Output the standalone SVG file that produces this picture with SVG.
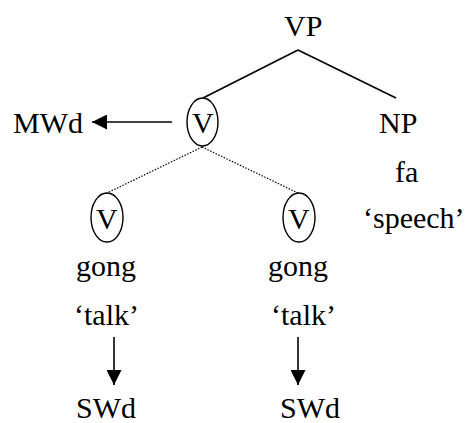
<svg xmlns="http://www.w3.org/2000/svg" width="468" height="423" viewBox="0 0 468 423" font-family="'Times New Roman', 'Liberation Serif', serif">
  <style>
    .edge { stroke: #000; stroke-width: 1.6; fill: none; }
    .dot { stroke: #000; stroke-width: 1.2; stroke-dasharray: 1.5 1.5; fill: none; }
    .ring { stroke: #000; stroke-width: 1.4; fill: none; }
  </style>
  <defs>
    <marker id="head" viewBox="0 0 10 10" refX="10" refY="5" markerWidth="15" markerHeight="15" markerUnits="userSpaceOnUse" orient="auto">
      <path d="M0,0 L10,5 L0,10 Z" fill="#000"/>
    </marker>
  </defs>
  <g id="connectors">
    <path class="edge" d="M298,50 L203,98"/>
    <path class="edge" d="M298,50 L396,98"/>
    <path class="dot" d="M202,147 L107,193"/>
    <path class="dot" d="M202,147 L298,193"/>
    <path class="edge" d="M172,122 L92,122" marker-end="url(#head)"/>
    <path class="edge" d="M114,337 L114,385" marker-end="url(#head)"/>
    <path class="edge" d="M298,337 L298,385" marker-end="url(#head)"/>
  </g>
  <!-- labels placed by their left edge (Times metrics at 30px) -->
  <g id="vp"><text x="284" y="36" font-family="Times New Roman" font-size="30">VP</text></g>
  <g id="mwd"><text x="13" y="133" font-family="Times New Roman" font-size="30">MWd</text></g>
  <g id="v-top">
    <ellipse class="ring" cx="202.5" cy="122" rx="15.5" ry="24"/>
    <text x="192" y="133" font-family="Times New Roman" font-size="30">V</text>
  </g>
  <g id="np">
    <text x="379" y="133" font-family="Times New Roman" font-size="30">NP</text>
    <text x="395" y="182" font-family="Times New Roman" font-size="30">fa</text>
    <text x="363" y="228" font-family="Times New Roman" font-size="30">&#8216;speech&#8217;</text>
  </g>
  <g id="v-left">
    <ellipse class="ring" cx="107" cy="217.5" rx="16" ry="24.5"/>
    <text x="96" y="229" font-family="Times New Roman" font-size="30">V</text>
    <text x="76" y="276" font-family="Times New Roman" font-size="30">gong</text>
    <text x="74" y="325" font-family="Times New Roman" font-size="30">&#8216;talk&#8217;</text>
  </g>
  <g id="v-right">
    <ellipse class="ring" cx="299" cy="217.5" rx="16" ry="24.5"/>
    <text x="288" y="229" font-family="Times New Roman" font-size="30">V</text>
    <text x="268" y="276" font-family="Times New Roman" font-size="30">gong</text>
    <text x="271" y="325" font-family="Times New Roman" font-size="30">&#8216;talk&#8217;</text>
  </g>
  <g id="swd-left"><text x="76" y="418" font-family="Times New Roman" font-size="30">SWd</text></g>
  <g id="swd-right"><text x="280" y="418" font-family="Times New Roman" font-size="30">SWd</text></g>
</svg>
